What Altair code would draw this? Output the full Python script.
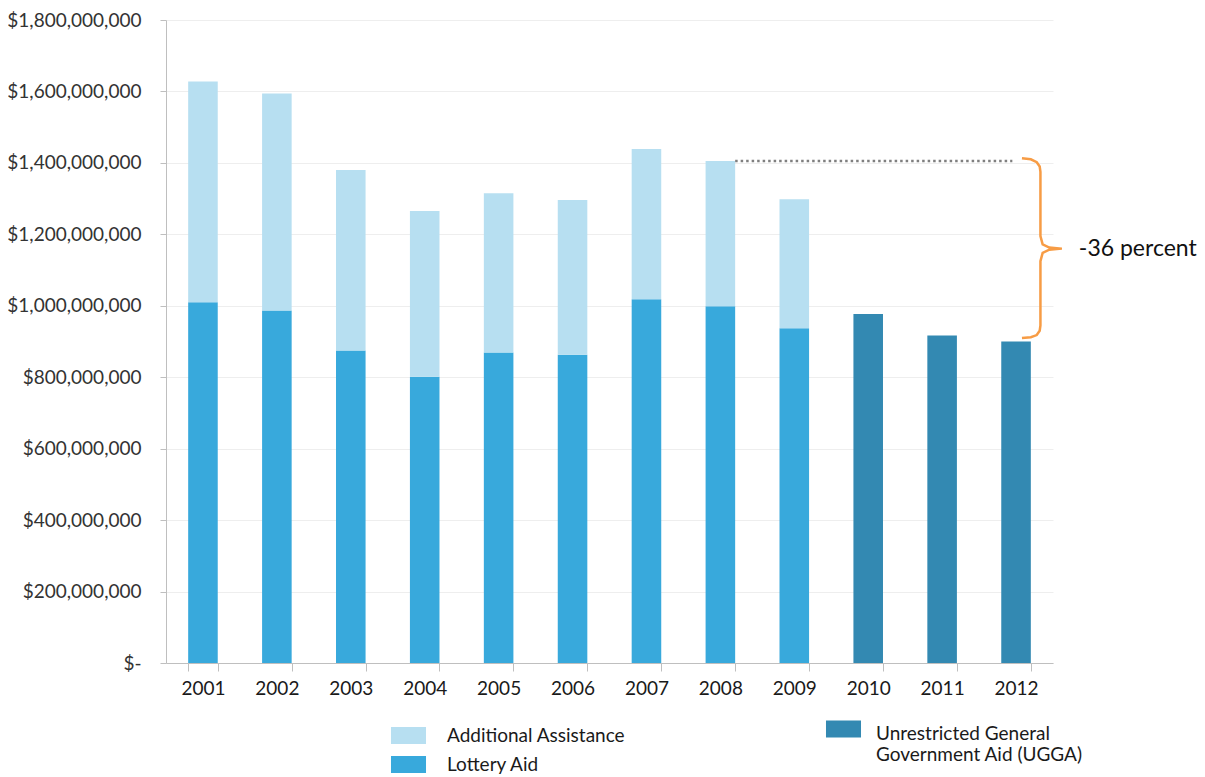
import altair as alt
import pandas as pd

# ---------------- data ----------------
years = ["2001", "2002", "2003", "2004", "2005", "2006",
         "2007", "2008", "2009", "2010", "2011", "2012"]
stack_years = years[:9]
lottery_aid = [1010e6, 987e6, 875e6, 801e6, 869e6, 863e6, 1018e6, 999e6, 937e6]
additional_assistance = [618e6, 607e6, 505e6, 464e6, 446e6, 433e6, 421e6, 406e6, 361e6]
ugga_years = years[9:]
ugga_values = [977e6, 917e6, 900e6]

series_names = ["Additional Assistance", "Lottery Aid"]
series_colors = ["#B7DFF1", "#38A9DC"]
ugga_name = "Unrestricted General Government Aid (UGGA)"
ugga_label_lines = ["Unrestricted General", "Government Aid (UGGA)"]
ugga_color = "#3389B2"
y_ticks = [0, 200e6, 400e6, 600e6, 800e6, 1000e6, 1200e6, 1400e6, 1600e6, 1800e6]

annotation_text = "-36 percent"
# reference level: 2008 total
ref_level = lottery_aid[7] + additional_assistance[7]
# annotation positions on a 0..12 category-index axis
dotted_x = [7.7, 11.45]
brace_x = [11.58, 11.70, 11.78, 11.82, 11.83, 11.83, 11.86, 11.95, 12.12,
           11.95, 11.86, 11.83, 11.83, 11.82, 11.78, 11.70, 11.58]
brace_y = [1.413e9, 1.410e9, 1.402e9, 1.390e9, 1.375e9, 1.195e9, 1.172e9, 1.163e9, 1.160e9,
           1.157e9, 1.148e9, 1.125e9, 0.945e9, 0.930e9, 0.918e9, 0.912e9, 0.910e9]
label_x = 12.35
label_y = 1.16e9

FONT = "Lato"
FS = 19

# ---------------- tables ----------------
rows = []
for i, yr in enumerate(stack_years):
    rows.append({"year": yr, "series": "Lottery Aid", "value": lottery_aid[i], "ord": 0})
    rows.append({"year": yr, "series": "Additional Assistance", "value": additional_assistance[i], "ord": 1})
df_stack = pd.DataFrame(rows)
df_ugga = pd.DataFrame({"year": ugga_years, "series2": [ugga_name] * 3, "value": ugga_values})
df_dot = pd.DataFrame({"x0": [dotted_x[0]], "x1": [dotted_x[1]], "y": [ref_level]})
df_brace = pd.DataFrame({"bx": brace_x, "by": brace_y, "i": list(range(len(brace_x)))})
df_label = pd.DataFrame({"lx": [label_x], "ly": [label_y], "t": [annotation_text]})

x_band = alt.X(
    "year:N",
    scale=alt.Scale(domain=years, paddingInner=0.6, paddingOuter=0.3),
    axis=alt.Axis(title=None, labelAngle=0, tickBand="extent", domainColor="#BFBFBF",
                  tickColor="#BFBFBF", tickSize=8, labelFont=FONT, labelFontSize=FS,
                  labelColor="#1a1a1a", labelPadding=8, grid=False),
)
y_q = alt.Y(
    "value:Q",
    stack="zero",
    scale=alt.Scale(domain=[0, 1.8e9], nice=False),
    axis=alt.Axis(title=None, values=y_ticks,
                  labelExpr="datum.value === 0 ? '$-' : '$' + format(datum.value, ',.0f')",
                  tickSize=6, labelPadding=19, gridColor="#EEEEEE", domainColor="#BFBFBF",
                  tickColor="#BFBFBF", labelFont=FONT, labelFontSize=FS, labelColor="#333333"),
)

legend1 = alt.Legend(
    orient="none", legendX=233, legendY=706, title=None, direction="vertical",
    symbolType="M-2.06,-1H2.06V1H-2.06Z", symbolSize=289, symbolStrokeWidth=0,
    symbolOpacity=1, labelFont=FONT, labelFontSize=FS, labelColor="#1a1a1a",
    labelOffset=29, rowPadding=9, labelLimit=500,
)
legend2 = alt.Legend(
    orient="none", legendX=668, legendY=704, title=None, direction="vertical",
    symbolType="M-2.06,-1.52H2.06V0.48H-2.06Z", symbolSize=289, symbolStrokeWidth=0,
    symbolOpacity=1, labelFont=FONT, labelFontSize=FS, labelColor="#1a1a1a",
    labelOffset=23, labelLimit=500,
    labelExpr="[" + ", ".join("'" + s + "'" for s in ugga_label_lines) + "]",
)

bars_stack = alt.Chart(df_stack).mark_bar().encode(
    x=x_band,
    y=y_q,
    color=alt.Color("series:N", scale=alt.Scale(domain=series_names, range=series_colors),
                    legend=legend1),
    order=alt.Order("ord:Q", sort="ascending"),
)
bars_ugga = alt.Chart(df_ugga).mark_bar().encode(
    x=alt.X("year:N"),
    y=alt.Y("value:Q"),
    fill=alt.Fill("series2:N", scale=alt.Scale(domain=[ugga_name], range=[ugga_color]),
                  legend=legend2),
)
bars = alt.layer(bars_stack, bars_ugga)

xlin = alt.Scale(domain=[0, 12], nice=False, zero=False)
dotted = alt.Chart(df_dot).mark_rule(color="#7F7F7F", strokeWidth=2.5, strokeDash=[2.5, 3]).encode(
    x=alt.X("x0:Q", scale=xlin, axis=None), x2="x1:Q", y=alt.Y("y:Q")
)
brace = alt.Chart(df_brace).mark_line(color="#F79C45", strokeWidth=2.5, interpolate="linear").encode(
    x=alt.X("bx:Q", scale=xlin, axis=None), y=alt.Y("by:Q"), order="i:Q"
)
label = alt.Chart(df_label).mark_text(align="left", baseline="middle", font=FONT,
                                      fontSize=23, color="#111111").encode(
    x=alt.X("lx:Q", scale=xlin, axis=None), y=alt.Y("ly:Q"), text="t:N"
)
annot = alt.layer(dotted, brace, label)

chart = alt.layer(bars, annot).resolve_scale(x="independent").properties(
    width=887, height=643,
    padding={"left": 158, "top": 12, "right": 144, "bottom": 114},
    autosize=alt.AutoSizeParams(type="none"),
).configure_view(stroke=None)

chart.save("out.html", embed_options={"renderer": "svg", "actions": False})
